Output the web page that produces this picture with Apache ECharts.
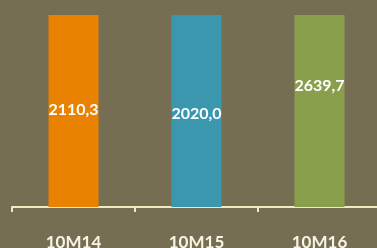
<!DOCTYPE html>
<html>
<head>
<meta charset="utf-8">
<script src="https://cdn.jsdelivr.net/npm/echarts@6/dist/echarts.min.js"></script>
<style>
  html, body { margin: 0; padding: 0; background: #766e52; }
  #chart { width: 377px; height: 248px; }
</style>
</head>
<body>
<div id="chart"></div>
<script>
var categories = ['10M14', '10M15', '10M16']
var values = [2110.3, 2020.0, 2639.7]
var barColors = ['#e88200', '#3a97ad', '#8a9f4c']

var chart = echarts.init(document.getElementById('chart'))

function fmt(v) {
  return v.toFixed(1).replace('.', ',')
}

var option = {
  backgroundColor: '#766e52',
  animation: false,
  grid: {
    left: 12,
    right: -4,
    top: 15,
    bottom: 41,
    containLabel: false,
    outerBoundsMode: 'none'
  },
  xAxis: {
    type: 'category',
    data: categories,
    axisLine: { lineStyle: { color: '#efeac0', width: 2 } },
    axisTick: { show: true, length: 5, alignWithLabel: false, lineStyle: { color: '#efeac0', width: 2 } },
    axisLabel: {
      color: '#f7f4e6',
      fontFamily: 'Lato, sans-serif',
      fontWeight: 'bold',
      fontSize: 17,
      margin: 27
    }
  },
  yAxis: [
    { type: 'value', min: 0, max: 2000, show: false },
    { type: 'value', min: 0, max: 2087, show: false }
  ],
  series: [
    {
      // visible bars, clipped at the top of the plot
      type: 'bar',
      yAxisIndex: 0,
      barWidth: 50,
      data: values.map(function (v, i) {
        return { value: v, itemStyle: { color: barColors[i] } }
      })
    },
    {
      // transparent copy that carries the value labels
      type: 'bar',
      yAxisIndex: 1,
      barWidth: 50,
      barGap: '-100%',
      clip: false,
      itemStyle: { color: 'rgba(0,0,0,0)' },
      label: {
        show: true,
        position: 'inside',
        color: '#ffffff',
        fontFamily: 'Lato, sans-serif',
        fontWeight: 'bold',
        fontSize: 16,
        formatter: function (p) { return fmt(p.value) }
      },
      data: values
    }
  ]
}

chart.setOption(option)
</script>
</body>
</html>
